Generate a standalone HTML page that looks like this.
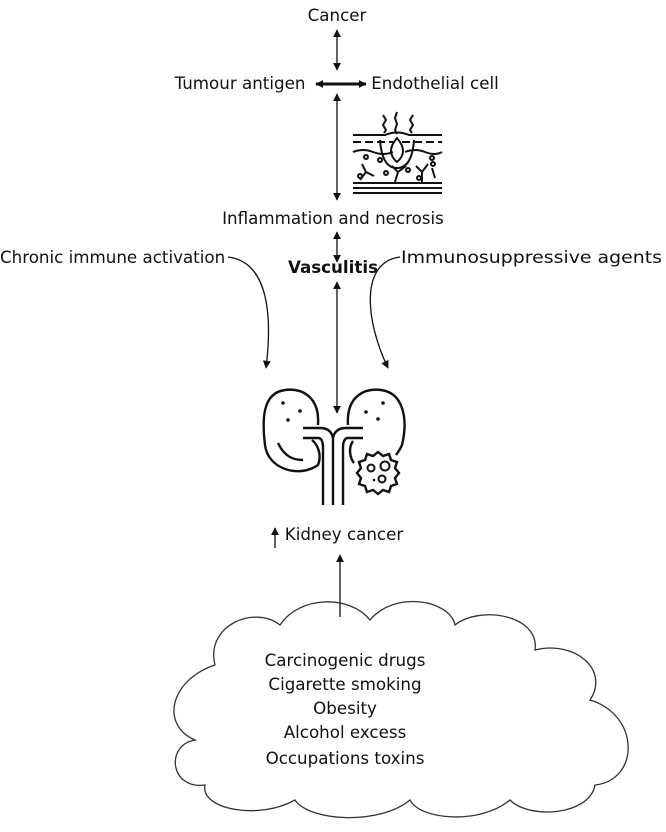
<!DOCTYPE html>
<html><head><meta charset="utf-8"><style>
body{margin:0;background:#fff;}
svg text{font-family:"DejaVu Sans","Liberation Sans",sans-serif;font-size:16.7px;fill:#111;}
</style></head><body>
<svg width="666" height="827" viewBox="0 0 666 827" xmlns="http://www.w3.org/2000/svg">
<defs>
<marker id="a" viewBox="0 0 10 10" refX="9" refY="5" markerWidth="8" markerHeight="8" markerUnits="userSpaceOnUse" orient="auto-start-reverse"><path d="M0,0 L10,5 L0,10 z" fill="#111"/></marker>
</defs>
<g text-anchor="middle">
<text x="337" y="21">Cancer</text>
<text x="240" y="89">Tumour antigen</text>
<text x="435" y="89">Endothelial cell</text>
<text x="333" y="224">Inflammation and necrosis</text>
<text x="333" y="273" font-weight="bold">Vasculitis</text>
<text x="344" y="540">Kidney cancer</text>
<text x="345" y="666">Carcinogenic drugs</text>
<text x="345" y="690">Cigarette smoking</text>
<text x="345" y="714">Obesity</text>
<text x="345" y="738">Alcohol excess</text>
<text x="345" y="764">Occupations toxins</text>
</g>
<text x="0" y="263">Chronic immune activation</text>
<text x="401" y="263" textLength="261" lengthAdjust="spacingAndGlyphs">Immunosuppressive agents</text>
<g stroke="#111" fill="none" stroke-width="1.3">
<line x1="337" y1="30" x2="337" y2="70" marker-start="url(#a)" marker-end="url(#a)"/>
<line x1="316" y1="84" x2="366" y2="84" stroke-width="3" marker-start="url(#a)" marker-end="url(#a)"/>
<line x1="337" y1="94" x2="337" y2="200" marker-start="url(#a)" marker-end="url(#a)"/>
<line x1="337" y1="232" x2="337" y2="262" marker-start="url(#a)" marker-end="url(#a)"/>
<line x1="337" y1="282" x2="337" y2="413" marker-start="url(#a)" marker-end="url(#a)"/>
<path d="M228,257 C270,262 272,320 266,368" marker-end="url(#a)"/>
<path d="M400,257 C360,262 365,320 388,368" marker-end="url(#a)"/>
<line x1="275" y1="548" x2="275" y2="528" marker-end="url(#a)"/>
<line x1="340" y1="617" x2="340" y2="555" marker-end="url(#a)"/>
<path d="M215,665 C205,625 255,605 280,625 C300,595 350,595 370,620 C395,590 450,600 455,625 C480,605 540,615 535,650 C575,640 610,670 590,700 C640,715 640,780 595,785 C590,815 530,820 510,800 C480,825 420,820 410,800 C380,825 310,822 295,800 C260,820 200,810 205,785 C170,790 165,745 195,740 C160,725 170,680 215,665 Z" stroke="#333"/>
</g>
<g stroke="#111" fill="none" stroke-width="2">
<path d="M383,115 l3,5 -3,5 3,5 -2,3"/><path d="M397,112 l-2,6 2,6 -2,6 2,4"/><path d="M413,115 l-3,5 3,5 -3,5 2,3"/>
<path d="M353,135 L385,135 Q397,130 409,135 L442,135"/>
<path d="M353,142 h40 M402,142 h40" stroke-dasharray="8,4"/>
<path d="M397,138 q-12,14 0,24 q12,-10 0,-24z"/>
<path d="M353,152 q10,-4 20,0 t20,0 M405,152 q10,-4 20,0 t17,0"/>
<path d="M380,140 q2,28 17,28 q15,0 17,-28"/>
<path d="M360,180 l6,-8 -4,-8 M366,172 l8,4 M395,182 l3,-10 -6,-6 M398,172 l8,-6 M422,182 l0,-10 6,-8 M422,172 l-6,-6 M435,178 l-3,-10"/>
<circle cx="366" cy="157" r="2"/><circle cx="380" cy="160" r="2"/><circle cx="386" cy="173" r="2"/><circle cx="408" cy="170" r="2"/><circle cx="432" cy="158" r="2"/><circle cx="433" cy="164" r="2"/><circle cx="419" cy="178" r="2"/><circle cx="360" cy="176" r="2"/>
<path d="M353,183 h89 M353,188 h89 M353,193 h89"/>
</g>
<g stroke="#111" fill="none" stroke-width="2.4">
<path d="M318,425 C320,395 300,388 285,390 C262,393 262,420 265,445 C268,470 300,478 318,465 C322,455 318,445 312,440"/>
<path d="M278,443 C285,458 295,460 303,460"/>
<path d="M348,425 C346,395 366,388 381,390 C404,393 408,420 402,445 C400,450 398,452 396,455"/>
<path d="M353,441 C348,448 350,458 354,463"/>
<path d="M303,428 h17 q11,0 13,10 M303,438 h15 q5,0 5,10 v57 M333,438 v67 M363,428 h-17 q-11,0 -13,10 M363,438 h-15 q-5,0 -5,10 v57"/>
<path d="M378,452 l5,4 6,-2 2,6 6,2 -2,6 4,5 -4,5 2,6 -6,2 -2,6 -6,-2 -5,4 -5,-4 -6,2 -2,-6 -6,-2 2,-6 -4,-5 4,-5 -2,-6 6,-2 2,-6 6,2z"/>
</g>
<g stroke="#111" fill="none" stroke-width="2">
<circle cx="385" cy="466" r="4.5"/><circle cx="371" cy="468" r="3.5"/><circle cx="382" cy="479" r="3.5"/>
</g>
<g fill="#111"><circle cx="283" cy="403" r="1.8"/><circle cx="300" cy="411" r="1.8"/><circle cx="288" cy="420" r="1.8"/><circle cx="383" cy="403" r="1.8"/><circle cx="366" cy="412" r="1.8"/><circle cx="378" cy="419" r="1.8"/><circle cx="374" cy="480" r="1.3"/></g>
</svg>
</body></html>
